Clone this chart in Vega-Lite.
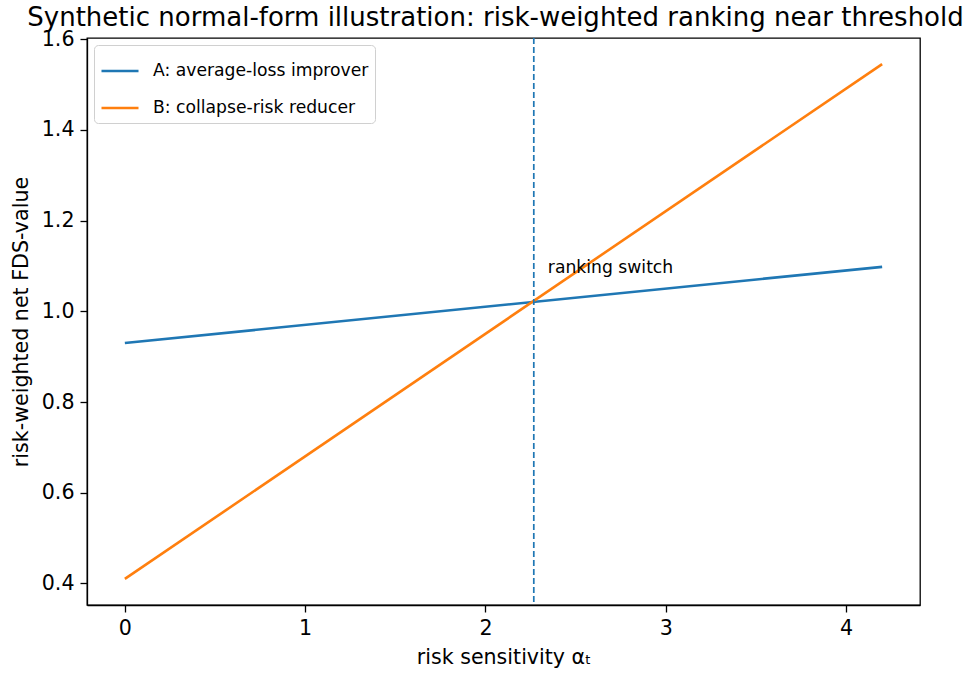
{
  "$schema": "https://vega.github.io/schema/vega-lite/v6.json",
  "autosize": "none",
  "width": 833,
  "height": 567,
  "padding": {"left": 87, "top": 38, "right": 48, "bottom": 69},
  "background": "white",
  "title": {"text": "Synthetic normal-form illustration: risk-weighted ranking near threshold", "font": "DejaVu Sans", "fontSize": 26, "fontWeight": "normal", "color": "black", "anchor": "middle", "offset": 4, "dx": -8, "dy": 6},
  "config": {
    "view": {"stroke": "black", "strokeWidth": 1.3},
    "axis": {"grid": false, "domainColor": "black", "domainWidth": 1.3, "tickColor": "black", "tickWidth": 1.3, "labelColor": "black", "titleColor": "black", "labelFont": "DejaVu Sans", "titleFont": "DejaVu Sans", "labelFontSize": 20.6, "titleFontSize": 20.6, "titleFontWeight": "normal", "tickSize": 7, "labelPadding": 6}
  },
  "datasets": {
    "lines": [
      {"x": 0, "y": 0.93, "series": "A: average-loss improver"},
      {"x": 4.2, "y": 1.098, "series": "A: average-loss improver"},
      {"x": 0, "y": 0.41, "series": "B: collapse-risk reducer"},
      {"x": 4.2, "y": 1.545, "series": "B: collapse-risk reducer"}
    ]
  },
  "layer": [
    {
      "data": {"name": "lines"},
      "mark": {"type": "line", "strokeWidth": 2.6},
      "encoding": {
        "x": {"field": "x", "type": "quantitative", "scale": {"domain": [-0.21, 4.41], "nice": false, "zero": false}, "axis": {"values": [0, 1, 2, 3, 4], "format": "d", "title": "risk sensitivity αₜ", "titlePadding": 9}},
        "y": {"field": "y", "type": "quantitative", "scale": {"domain": [0.3525, 1.6025], "nice": false, "zero": false}, "axis": {"values": [0.4, 0.6, 0.8, 1.0, 1.2, 1.4, 1.6], "format": ".1f", "title": "risk-weighted net FDS-value", "titlePadding": 10}},
        "color": {"field": "series", "type": "nominal", "scale": {"domain": ["A: average-loss improver", "B: collapse-risk reducer"], "range": ["#1f77b4", "#ff7f0e"]},
          "legend": {"title": null, "orient": "top-left", "offset": 7, "symbolType": "stroke", "symbolSize": 1370, "symbolStrokeWidth": 2.6, "labelFont": "DejaVu Sans", "labelFontSize": 17.2, "labelColor": "black", "labelLimit": 400, "labelOffset": 13, "strokeColor": "#d0d0d0", "fillColor": "white", "padding": 6, "cornerRadius": 4, "rowPadding": 8}}
      }
    },
    {
      "data": {"values": [{"x": 2.268}]},
      "mark": {"type": "rule", "color": "#1f77b4", "strokeWidth": 1.7, "strokeDash": [6, 3]},
      "encoding": {"x": {"field": "x", "type": "quantitative"}}
    },
    {
      "data": {"values": [{"x": 2.346, "y": 1.085, "label": "ranking switch"}]},
      "mark": {"type": "text", "align": "left", "baseline": "alphabetic", "font": "DejaVu Sans", "fontSize": 17.2, "color": "black"},
      "encoding": {"x": {"field": "x", "type": "quantitative"}, "y": {"field": "y", "type": "quantitative"}, "text": {"field": "label"}}
    }
  ]
}
